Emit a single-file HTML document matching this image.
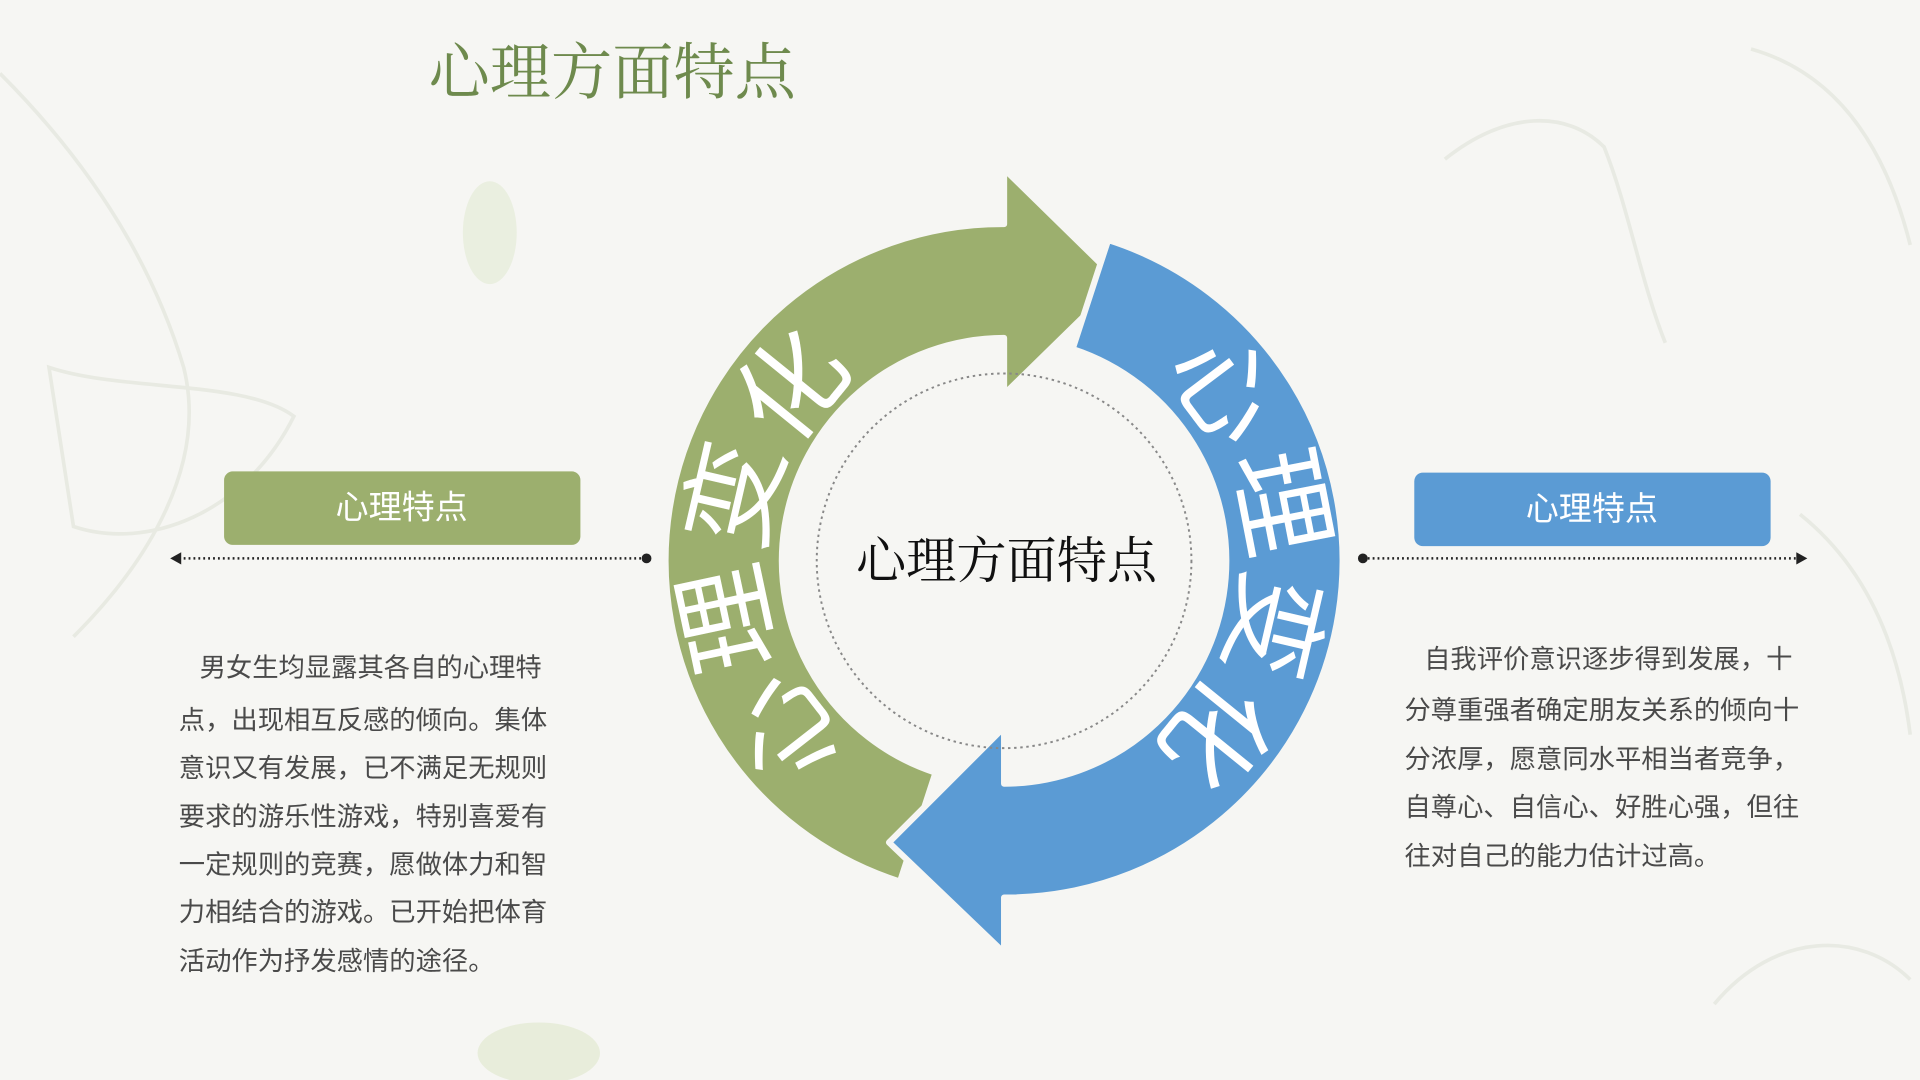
<!DOCTYPE html>
<html><head><meta charset="utf-8"><style>
html,body{margin:0;padding:0;width:1920px;height:1080px;overflow:hidden;background:#f6f6f3;}
svg{display:block}
text{font-family:"Liberation Sans","Noto Sans CJK SC",sans-serif;}
</style></head><body>
<svg width="1920" height="1080" viewBox="0 0 1568 882" xmlns="http://www.w3.org/2000/svg">
<rect width="1568" height="882" fill="#f6f6f3"/>
<g fill="none" stroke="#e3e6dc" stroke-width="3" opacity="0.7">
<path d="M0 60 C60 120 120 200 150 300 C170 380 120 460 60 520"/>
<path d="M40 300 C100 320 200 310 240 340 C200 420 120 450 60 430 Z"/>
<path d="M1180 130 C1230 90 1280 90 1310 120 C1330 170 1340 230 1360 280"/>
<path d="M1430 40 C1500 60 1540 120 1560 200"/>
<path d="M1470 420 C1520 460 1550 520 1560 600"/>
<path d="M1400 820 C1450 760 1520 760 1560 800"/>
</g>
<ellipse cx="400" cy="190" rx="22" ry="42" fill="#e2ebd4" opacity="0.6"/>
<ellipse cx="440" cy="860" rx="50" ry="25" fill="#dfe7cb" opacity="0.6"/>

<text x="500" y="60" font-size="50" fill="#6e8a4d" text-anchor="middle" dominant-baseline="central" style="font-family:'Liberation Serif','Noto Serif CJK SC',serif">心理方面特点</text>

<path d="M735 720 A275 275 0 0 1 820 183 L820 138 L914 230 L820 322 L820 276 A182 182 0 0 0 764 631 Z" fill="#9caf6e" stroke="#f6f6f3" stroke-width="5" stroke-linejoin="round"/>
<path d="M905 196 A275 275 0 0 1 820 733 L820 778 L726 688 L820 594 L820 640 A182 182 0 0 0 876 285 Z" fill="#5b9bd4" stroke="#f6f6f3" stroke-width="5" stroke-linejoin="round"/>

<g font-size="86" fill="#fff" text-anchor="middle" dominant-baseline="central">
<text transform="translate(643,596) rotate(232)">心</text>
<text transform="translate(596,505) rotate(258)">理</text>
<text transform="translate(601,404) rotate(283)">变</text>
<text transform="translate(648,316) rotate(309)">化</text>
<text transform="translate(999,318) rotate(53)">心</text>
<text transform="translate(1045,410) rotate(79)">理</text>
<text transform="translate(1039,511) rotate(103)">变</text>
<text transform="translate(992,598) rotate(129)">化</text>
</g>

<circle cx="820" cy="458" r="153" fill="none" stroke="#888" stroke-width="1.6" stroke-dasharray="2 3"/>
<text x="822" y="458" font-size="41" fill="#111" text-anchor="middle" dominant-baseline="central" style="font-family:'Liberation Serif','Noto Serif CJK SC',serif">心理方面特点</text>

<rect x="183" y="385" width="291" height="60" rx="7" fill="#9caf6e"/>
<text x="328" y="415" font-size="27" fill="#fff" text-anchor="middle" dominant-baseline="central">心理特点</text>
<line x1="146" y1="456" x2="528" y2="456" stroke="#222" stroke-width="2" stroke-dasharray="1.5 2.5"/>
<circle cx="528" cy="456" r="4" fill="#222"/>
<path d="M139 456 L148 451 L148 461 Z" fill="#222"/>

<rect x="1155" y="386" width="291" height="60" rx="7" fill="#5b9bd4"/>
<text x="1300" y="416" font-size="27" fill="#fff" text-anchor="middle" dominant-baseline="central">心理特点</text>
<line x1="1113" y1="456" x2="1468" y2="456" stroke="#222" stroke-width="2" stroke-dasharray="1.5 2.5"/>
<circle cx="1113" cy="456" r="4" fill="#222"/>
<path d="M1476 456 L1467 451 L1467 461 Z" fill="#222"/>

<g font-size="21.5" fill="#4a4a4a" dominant-baseline="central">
<text x="163" y="545">男女生均显露其各自的心理特</text>
<text x="146" y="588">点，出现相互反感的倾向。集体</text>
<text x="146" y="627">意识又有发展，已不满足无规则</text>
<text x="146" y="667">要求的游乐性游戏，特别喜爱有</text>
<text x="146" y="706">一定规则的竞赛，愿做体力和智</text>
<text x="146" y="745">力相结合的游戏。已开始把体育</text>
<text x="146" y="785">活动作为抒发感情的途径。</text>

<text x="1163" y="538">自我评价意识逐步得到发展，十</text>
<text x="1147" y="580">分尊重强者确定朋友关系的倾向十</text>
<text x="1147" y="620">分浓厚，愿意同水平相当者竞争，</text>
<text x="1147" y="659">自尊心、自信心、好胜心强，但往</text>
<text x="1147" y="699">往对自己的能力估计过高。</text>
</g>
</svg>
</body></html>
